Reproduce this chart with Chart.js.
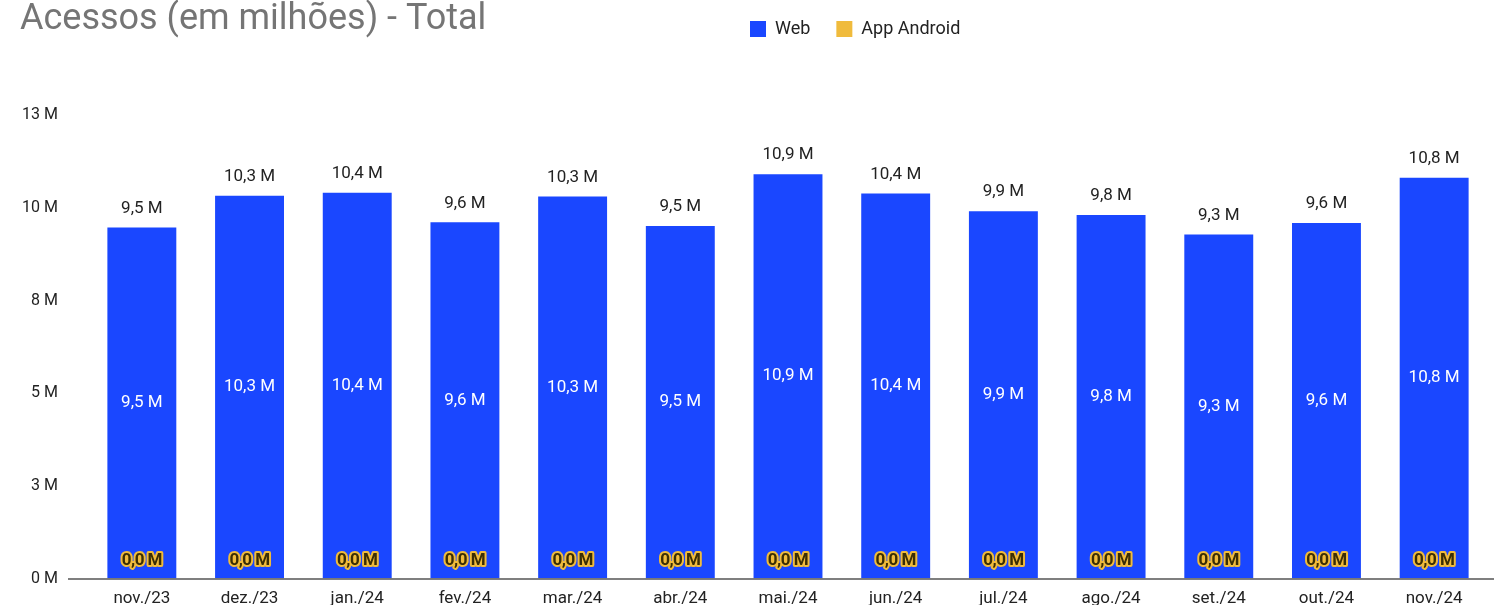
<!DOCTYPE html>
<html>
<head>
<meta charset="utf-8">
<script src="https://cdn.jsdelivr.net/npm/chart.js@4"></script>
<style>
  html, body { margin: 0; padding: 0; background: #fff; overflow: hidden; }
  #wrap { width: 1494px; height: 619px; position: relative; }
</style>
</head>
<body>
<div id="wrap"><canvas id="acessosChart"></canvas></div>
<script>
// data (milhoes de acessos)
var meses = ['nov./23', 'dez./23', 'jan./24', 'fev./24', 'mar./24', 'abr./24', 'mai./24',
             'jun./24', 'jul./24', 'ago./24', 'set./24', 'out./24', 'nov./24'];
var webData = [9.46, 10.32, 10.4, 9.6, 10.3, 9.5, 10.9, 10.38, 9.9, 9.8, 9.27, 9.58, 10.8];
var androidData = [0.01, 0.01, 0.01, 0.01, 0.01, 0.01, 0.01, 0.01, 0.01, 0.01, 0.01, 0.01, 0.01];
var yTicks = [0, 2.5, 5, 7.5, 10, 12.5];

var azul = '#1a47ff';
var amarelo = '#f0bb3c';

function fmt(v) {
    return v.toFixed(1).replace('.', ',') + ' M';
}

var labelsPlugin = {
    id: 'barLabels',
    beforeLayout: function (chart) {
        // legend takes no room in the layout, it sits on the title row
        var lg = chart.legend;
        if (lg && !lg._semAltura) {
            var fit = lg.fit;
            lg.fit = function () {
                fit.call(this);
                this.height = 0;
            };
            lg._semAltura = true;
        }
    },
    afterLayout: function (chart) {
        var lg = chart.legend;
        var w = lg.right - lg.left;
        lg.left = 724;
        lg.right = 724 + w;
        lg.top = -6;
        lg.bottom = lg.top + 44;
        lg.adjustHitBoxes();
    },
    afterDatasetsDraw: function (chart) {
        var ctx = chart.ctx;
        var webMeta = chart.getDatasetMeta(0);
        var andMeta = chart.getDatasetMeta(1);
        var area = chart.chartArea;
        ctx.save();
        // axis line
        ctx.strokeStyle = '#555';
        ctx.lineWidth = 1.5;
        ctx.beginPath();
        ctx.moveTo(68, area.bottom + 0.5);
        ctx.lineTo(1494, area.bottom + 0.5);
        ctx.stroke();

        ctx.textAlign = 'center';
        ctx.textBaseline = 'middle';
        webMeta.data.forEach(function (bar, i) {
            var total = webData[i] + androidData[i];
            ctx.font = '17px Roboto';
            ctx.fillStyle = '#222';
            ctx.fillText(fmt(total), bar.x, bar.y - 19);
            ctx.fillStyle = '#fff';
            ctx.fillText(fmt(webData[i]), bar.x, (bar.y + bar.base) / 2);
        });
        ctx.font = 'bold 17px Roboto';
        ctx.letterSpacing = '-0.5px';
        ctx.lineJoin = 'round';
        andMeta.data.forEach(function (bar, i) {
            var txt = fmt(androidData[i]);
            ctx.strokeStyle = amarelo;
            ctx.lineWidth = 4;
            ctx.strokeText(txt, bar.x, bar.base - 18);
            ctx.fillStyle = '#3a2e05';
            ctx.fillText(txt, bar.x, bar.base - 18);
        });
        ctx.restore();
    }
};

var ctx = document.getElementById('acessosChart').getContext('2d');
var chart = new Chart(ctx, {
    type: 'bar',
    data: {
        labels: meses,
        datasets: [{
            label: 'Web',
            data: webData,
            backgroundColor: azul,
            order: 1,
            barPercentage: 0.64,
            categoryPercentage: 1
        }, {
            label: 'App Android',
            data: androidData,
            backgroundColor: amarelo,
            order: 0,
            barPercentage: 0.64,
            categoryPercentage: 1
        }]
    },
    options: {
        responsive: true,
        maintainAspectRatio: false,
        animation: false,
        layout: { padding: { left: 20, right: 6, top: 0, bottom: 0 } },
        plugins: {
            tooltip: { enabled: false },
            title: {
                display: true,
                text: 'Acessos (em milhões) - Total',
                align: 'start',
                color: '#757575',
                font: { family: 'Roboto', size: 36, weight: '400' },
                padding: { top: -2, bottom: 74 }
            },
            legend: {
                display: true,
                position: 'top',
                align: 'start',
                labels: {
                    boxWidth: 16,
                    boxHeight: 16,
                    padding: 26,
                    color: '#222',
                    font: { family: 'Roboto', size: 18 },
                    sort: function (a, b) { return a.datasetIndex - b.datasetIndex; }
                }
            }
        },
        scales: {
            x: {
                stacked: true,
                grid: { display: false, drawTicks: false },
                border: { display: false },
                ticks: {
                    color: '#222',
                    padding: 10,
                    font: { family: 'Roboto', size: 17 }
                }
            },
            y: {
                stacked: true,
                min: 0,
                max: 12.5,
                grid: { display: false, drawTicks: false },
                border: { display: false },
                afterFit: function (scale) { scale.width = 68; },
                afterBuildTicks: function (scale) {
                    scale.ticks = yTicks.map(function (v) { return { value: v }; });
                },
                ticks: {
                    color: '#222',
                    padding: 30,
                    font: { family: 'Roboto', size: 16 },
                    callback: function (v) { return Math.round(v) + ' M'; }
                }
            }
        }
    },
    plugins: [labelsPlugin]
});
</script>
</body>
</html>
